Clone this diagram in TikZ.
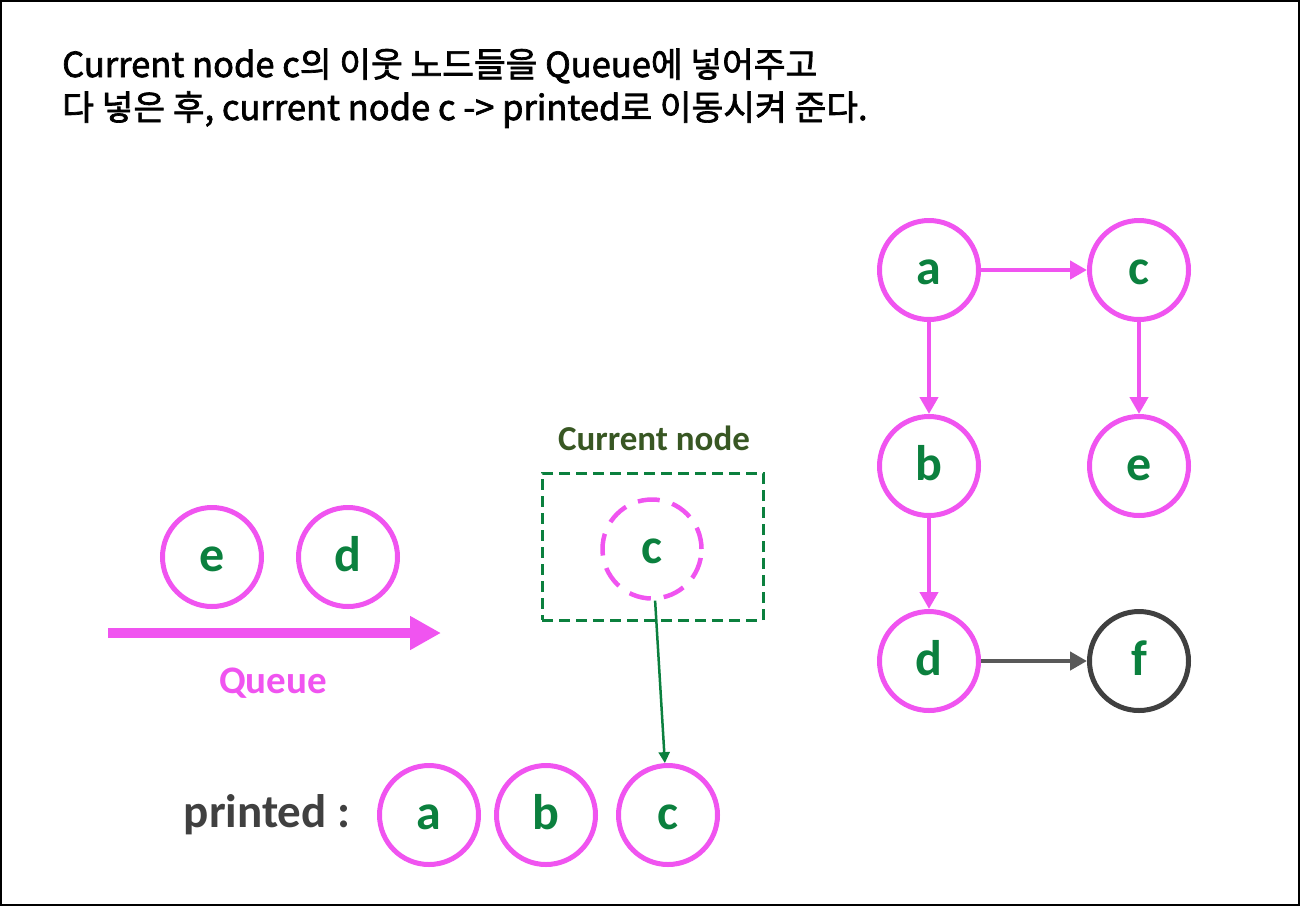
\documentclass[tikz,border=0pt]{standalone}
\usepackage{fontspec}
\setmainfont{Carlito}
\newfontfamily\krfont[FakeBold=2]{Noto Sans CJK KR}
\usetikzlibrary{arrows.meta}
\definecolor{pinkc}{RGB}{240,84,240}
\definecolor{greent}{RGB}{11,128,62}
\definecolor{olive}{RGB}{56,87,35}
\definecolor{darkg}{RGB}{64,64,64}
\definecolor{arrg}{RGB}{89,89,89}
\tikzset{
  vtx/.style={circle, draw=pinkc, line width=5pt, minimum size=99pt, inner sep=0pt,
    text=greent, text height=28pt, text depth=0pt, font=\bfseries\fontsize{50}{50}\selectfont},
  garrow/.style={draw=pinkc, line width=4.5pt, -{Triangle[length=17pt,width=18pt]}},
  titletext/.style={anchor=base west, inner sep=0pt, font=\krfont\fontsize{34.5}{34.5}\selectfont}
}
\begin{document}
\begin{tikzpicture}[x=1pt,y=-1pt]
\useasboundingbox (0,0) rectangle (1300,906);
\draw[line width=2pt] (1,1) rectangle (1299,905);
% title
\node[titletext] (t1) at (62,77) {Current node c의 이웃 노드들을 Queue에 넣어주고};
\node[titletext] (t2) at (62,120) {다 넣은 후, current node c -> printed로 이동시켜 준다.};
% graph
\node[vtx] (ga) at (929,270) {a};
\node[vtx] (gc) at (1139,270) {c};
\node[vtx] (gb) at (929,466) {b};
\node[vtx] (ge) at (1139,466) {e};
\node[vtx] (gd) at (929,661) {d};
\node[vtx, draw=darkg] (gf) at (1139,661) {f};
\draw[garrow] (ga) -- (gc);
\draw[garrow] (ga) -- (gb);
\draw[garrow] (gc) -- (ge);
\draw[garrow] (gb) -- (gd);
\draw[garrow, draw=arrg] (gd) -- (gf);
% queue
\node[vtx] (qe) at (212,557) {e};
\node[vtx] (qd) at (348,557) {d};
\coordinate (qs) at (108,633);
\coordinate (qt) at (441,633);
\draw[draw=pinkc, line width=10pt, -{Triangle[length=31pt,width=32pt]}] (qs) -- (qt);
\node[text=pinkc, font=\bfseries\fontsize{39}{39}\selectfont] (ql) at (273,683) {Queue};
% current node
\node[draw=greent, line width=3pt, dash pattern=on 11pt off 6pt, minimum width=221pt, minimum height=147pt, inner sep=0pt] (box) at (652.5,546.5) {};
\node[text=olive, font=\bfseries\fontsize{35}{35}\selectfont] (cl) at (654,438) {Current node};
\node[vtx, dash pattern=on 22pt off 13pt, line width=4.5pt] (cc) at (652,549) {c};
% printed
\node[text=darkg, font=\bfseries\fontsize{47}{47}\selectfont] (pl) at (267,815) {printed :};
\node[vtx] (pa) at (429,815) {a};
\node[vtx] (pb) at (546,815) {b};
\node[vtx] (pc) at (668,815) {c};
\draw[draw=greent, line width=2.5pt, -{Triangle[length=11pt,width=11pt]}] (cc) -- (pc);
\end{tikzpicture}
\end{document}
